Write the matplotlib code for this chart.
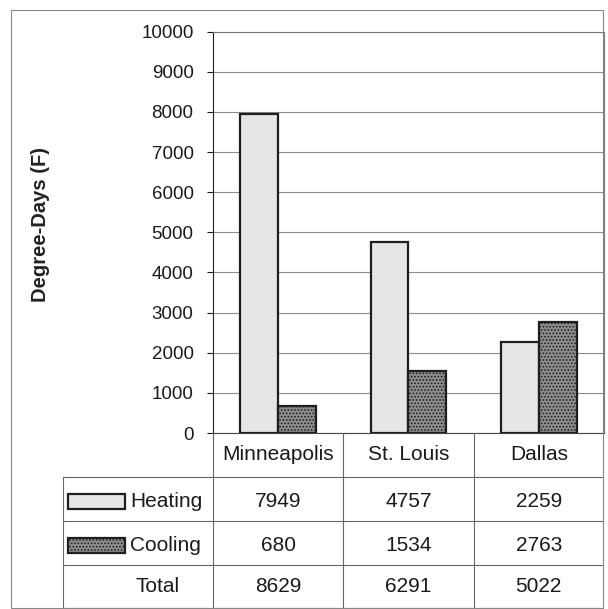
import numpy as np
import matplotlib.pyplot as plt
from matplotlib.patches import Rectangle

plt.rcParams['font.family'] = ['Liberation Sans', 'DejaVu Sans']
plt.rcParams['hatch.linewidth'] = 0.8

# Datos
ciudades = ['Minneapolis', 'St. Louis', 'Dallas']
heating = [7949, 4757, 2259]
cooling = [680, 1534, 2763]
total = [h + c for h, c in zip(heating, cooling)]
yticks = np.arange(0, 10001, 1000)

W, H = 608, 609
fig = plt.figure(figsize=(W/100, H/100), dpi=100)

# ejes del grafico (en pixeles de la imagen)
x0, x1 = 213, 604
y0, y1 = 433, 31.7
ax = fig.add_axes([x0/W, 1 - y0/H, (x1 - x0)/W, (y0 - y1)/H])

x = np.arange(len(ciudades))
bw = 0.29
est_heat = dict(facecolor='#e6e6e6', edgecolor='#1e1e1e', linewidth=1.6)
est_cool = dict(facecolor='#8e8e8e', edgecolor='#1e1e1e', linewidth=1.6, hatch='.....')
ax.bar(x - bw/2, heating, bw, zorder=3, **est_heat)
ax.bar(x + bw/2, cooling, bw, zorder=3, **est_cool)

ax.set_xlim(-0.5, 2.5)
ax.set_ylim(0, 10000)
ax.set_yticks(yticks)
ax.set_xticks([])
ax.tick_params(axis='y', length=4, width=0.8, pad=10, labelsize=13.5, colors='#1a1a1a')
ax.yaxis.grid(True, color='#8a8a8a', linewidth=0.8, zorder=0)
for s in ['top', 'right']:
    ax.spines[s].set_color('#777777')
    ax.spines[s].set_linewidth(0.8)
ax.spines['left'].set_color('#222222')
ax.spines['bottom'].set_color('#444444')
ax.spines['bottom'].set_linewidth(0.8)
ax.set_ylabel('Degree-Days (F)', fontsize=14.5, fontweight='bold', color='#222222')
ax.yaxis.set_label_coords(-0.418, 0.52)

# tabla de datos
tx0 = 63
u = (x1 - x0) / 3.0
xl = -0.5 - (x0 - tx0) / u
axt = fig.add_axes([tx0/W, 0, (x1 - tx0)/W, (H - y0)/H])
axt.set_xlim(xl, 2.5)
axt.set_ylim(0, 4)
axt.axis('off')

lc = dict(color='#666666', linewidth=0.8)
for xv in [-0.5, 0.5, 1.5, 2.5]:
    axt.plot([xv, xv], [0, 4], **lc)
axt.plot([xl, xl], [0, 3], **lc)
for yv in [0.02, 1, 2, 3]:
    axt.plot([xl, 2.5], [yv, yv], **lc)

fs = 15
for i, c in enumerate(ciudades):
    axt.text(i, 3.5, c, ha='center', va='center', fontsize=fs, color='#1a1a1a')
    axt.text(i, 2.45, str(heating[i]), ha='center', va='center', fontsize=fs, color='#1a1a1a')
    axt.text(i, 1.45, str(cooling[i]), ha='center', va='center', fontsize=fs, color='#1a1a1a')
    axt.text(i, 0.5, str(total[i]), ha='center', va='center', fontsize=fs, color='#1a1a1a')

# claves de la leyenda
sw_x = xl + 5/u
sw_w = 57/u
axt.add_patch(Rectangle((sw_x, 2.27), sw_w, 0.34, **est_heat))
axt.add_patch(Rectangle((sw_x, 1.27), sw_w, 0.34, **est_cool))
axt.text(sw_x + sw_w + 5/u, 2.45, 'Heating', ha='left', va='center', fontsize=fs, color='#1a1a1a')
axt.text(sw_x + sw_w + 5/u, 1.45, 'Cooling', ha='left', va='center', fontsize=fs, color='#1a1a1a')
axt.text(xl + 95/u, 0.5, 'Total', ha='center', va='center', fontsize=fs, color='#1a1a1a')

# marco exterior
fig.patches.append(Rectangle((11/W, 1/H), (603 - 11)/W, (599 - 1)/H, transform=fig.transFigure,
                             fill=False, edgecolor='#888888', linewidth=0.8))

fig.savefig('out.png', dpi=100)
